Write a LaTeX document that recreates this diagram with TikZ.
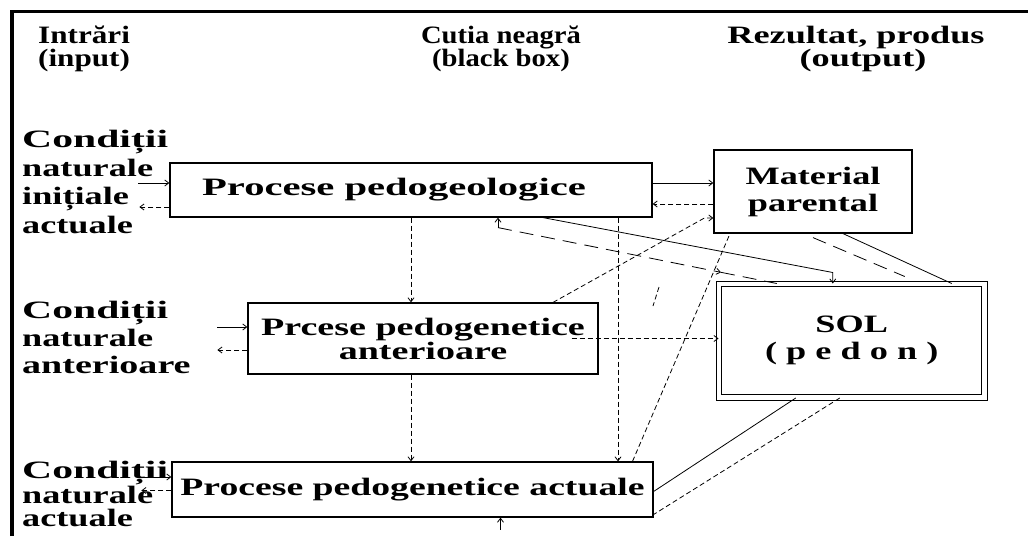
\documentclass[tikz,border=0pt]{standalone}
\usepackage{fontspec}
\usepackage{graphicx}
\setmainfont{Liberation Serif}[FakeStretch=1.45]
\usetikzlibrary{arrows.meta,calc}
\newcommand{\latime}[2]{\scalebox{#1}[1]{#2}}

\begin{document}
\begin{tikzpicture}[x=1pt, y=-1pt, >={Straight Barb[length=4pt,width=6pt]},
  every node/.style={font=\fontsize{25}{27}\selectfont\bfseries, inner sep=0pt},
  box/.style={draw, line width=1.2pt, align=center},
  conn/.style={line width=0.8pt},
  sdash/.style={conn, dash pattern=on 5pt off 3pt},
  ldash/.style={conn, dash pattern=on 14pt off 8pt}]
\useasboundingbox (0,0) rectangle (1028,536);
% rama
\draw[line width=3.5pt] (12,536) -- (12,11.5) -- (1028,11.5);

% capete de coloana
\node[anchor=north west, align=left] (hin) at (38,26) {\latime{0.86}{Intrări}\\[-4pt]\latime{0.86}{(input)}};
\node[anchor=north, align=center] (hbox) at (501,26) {\latime{0.79}{Cutia neagră}\\[-4pt]\latime{0.79}{(black box)}};
\node[anchor=north, align=center] (hout) at (856,26) {Rezultat, produs\\[-4pt]\hspace*{14pt}(output)};

% casete
\node[box, minimum width=482pt, minimum height=54pt] (pg) at (411,190) {\latime{1.12}{Procese pedogeologice}\hspace*{34pt}};
\node[box, minimum width=198pt, minimum height=83pt] (mp) at (813,191.5) {Material\\parental};
\node[box, double, double distance=4.5pt, line width=1pt, minimum width=265.5pt, minimum height=113.5pt] (sol) at (851.75,340.75) {SOL\\( p e d o n )};
\node[box, minimum width=350pt, minimum height=71pt] (pa) at (423,338.5) {\latime{1.05}{Prcese pedogenetice}\\[-3pt]\latime{1.05}{anterioare}};
\node[box, minimum width=481pt, minimum height=55pt] (pc) at (412.5,489.5) {\latime{1.04}{Procese pedogenetice actuale}};

% intrari
\node[anchor=north west, align=left, font=\fontsize{25}{28.5}\selectfont\bfseries] (ci) at (22,130) {\latime{1.15}{Condiții}\\naturale\\inițiale\\actuale};
\node[anchor=north west, align=left, font=\fontsize{25}{27.5}\selectfont\bfseries] (ca) at (22,301) {\latime{1.15}{Condiții}\\naturale\\\latime{1.05}{anterioare}};
\node[anchor=north west, align=left, font=\fontsize{25}{23.5}\selectfont\bfseries] (cc) at (22,461) {\latime{1.15}{Condiții}\\naturale\\actuale};

\draw[conn,->] ([xshift=-31pt,yshift=7pt]pg.west) -- ([yshift=7pt]pg.west);
\draw[sdash,->] ([yshift=-17pt]pg.west) -- ([xshift=-30pt,yshift=-17pt]pg.west);
\draw[conn,->] ([xshift=-30pt,yshift=11.5pt]pa.west) -- ([yshift=11.5pt]pa.west);
\draw[sdash,->] ([yshift=-11.5pt]pa.west) -- ([xshift=-30pt,yshift=-11.5pt]pa.west);
\draw[conn,->] ([xshift=-30pt,yshift=12.5pt]pc.west) -- ([yshift=12.5pt]pc.west);
\draw[sdash,->] ([yshift=-1pt]pc.west) -- ([xshift=-30pt,yshift=-1pt]pc.west);

% cutia neagra
\draw[sdash,->] (pg.south) -- (pg.south |- pa.north);
\draw[sdash,->] (pg.south |- pa.south) -- (pg.south |- pc.north);
\draw[sdash,->] ([xshift=207pt]pg.south) -- ([xshift=207pt]pg.south |- pc.north);

% spre rezultat
\draw[conn,->] ([yshift=7pt]pg.east) -- ([yshift=7pt]mp.west |- pg.east);
\draw[sdash,->] ([yshift=-14pt]mp.west |- pg.east) -- ([yshift=-14pt]pg.east);
\draw[sdash,->] ([xshift=130pt]pa.north) -- ([xshift=-9pt,yshift=-26.5pt]mp.west) -- ([yshift=-26.5pt]mp.west);
\draw[conn,->] ([xshift=132pt]pg.south) -- ([xshift=-19pt,yshift=11pt]sol.north) -- ([xshift=-19pt]sol.north);
\coordinate (r1) at ([xshift=87pt,yshift=-10pt]pg.south);
\coordinate (r2) at ([xshift=-75pt]sol.north);
\draw[ldash,->] (r1) -- ([xshift=87pt]pg.south);
\draw[ldash,->] (r1) -- ($(r1)!0.8!(r2)$);
\draw[ldash] ($(r1)!0.8!(r2)$) -- (r2);
\draw[conn] ([xshift=30pt]mp.south) -- ([xshift=100pt]sol.north);
\draw[ldash] ([yshift=-4pt]mp.south) -- ([xshift=53pt,yshift=7pt]sol.north);
\draw[sdash,->] ([xshift=-27pt]pa.east) -- (sol.west |- pa.east);
\draw[sdash] ([xshift=220pt]pc.north) -- ([xshift=-83pt]mp.south);
\draw[sdash] (659,287) -- (653,306);
\draw[conn] ([xshift=-56pt]sol.south) -- ([yshift=-2pt]pc.east);
\draw[sdash] ([xshift=-12pt]sol.south) -- ([yshift=-25pt]pc.east);
\draw[conn,<-] ([xshift=88pt]pc.south) -- ++(0,12);
\end{tikzpicture}
\end{document}
